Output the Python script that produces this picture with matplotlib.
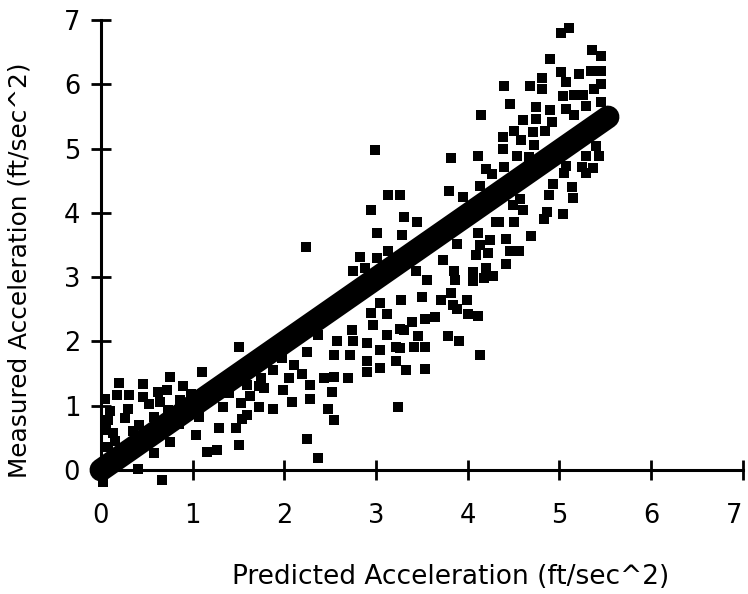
import matplotlib
matplotlib.use("Agg")
import matplotlib.pyplot as plt

# predicted vs measured acceleration
predicted = [
    1.51, 1.10, 0.75, 0.20, 0.46, 0.89, 0.72, 0.04, 0.17, 0.31, 0.46, 0.62, 0.86, 1.33, 1.53, 1.72,
    0.08, 0.26, 0.42, 0.58, 0.73, 1.07, 1.29, 1.47, 1.04, 0.13, 0.75, 1.27, 1.50, 1.16, 0.08, 0.58,
    0.40, 0.67, 0.02, 1.72, 0.05, 0.10, 0.15, 0.30, 0.35, 0.52, 0.55, 0.64, 0.02, 0.98, 1.20, 1.40,
    1.62, 0.85,
    2.37, 2.25, 2.05, 2.19, 2.28, 1.78, 1.99, 1.88, 1.59, 2.08, 2.28, 2.52, 2.48, 2.54, 2.25, 2.37,
    2.43, 2.54, 2.69, 2.54, 2.72, 2.74, 2.75, 2.90, 2.90, 3.04, 2.90, 2.95, 3.12, 2.97, 3.12, 3.22,
    3.22, 3.24, 2.57, 1.97, 2.10, 1.88, 1.74, 1.59, 1.54,
    3.39, 3.64, 3.53, 3.88, 4.00, 3.79, 3.90, 3.30, 3.46, 3.26, 3.41, 3.53, 3.04, 3.33, 3.53, 4.13,
    3.26,
    3.80, 3.95, 3.13, 3.26, 2.95, 3.30, 3.45, 3.01, 3.28, 2.83, 3.01, 3.13, 2.75, 2.88, 3.44, 3.56,
    3.73, 3.88, 4.11, 4.09, 4.22, 4.06, 3.86, 4.28, 4.31, 3.04, 3.27, 3.50, 3.71, 3.99, 2.99, 2.24,
    3.84, 3.82,
    5.02, 5.10, 5.45, 5.36, 4.90, 5.02, 5.21, 5.45, 5.35, 4.40, 4.68, 4.81, 4.81, 5.07, 5.38, 5.26,
    5.45, 5.04, 5.16, 4.46, 4.75, 4.90, 5.07, 5.29, 5.45, 4.15, 4.60, 4.75, 4.92, 5.16, 4.51, 4.71,
    4.84, 4.38, 4.58, 4.72, 4.39, 4.54, 4.67, 3.82, 4.11, 4.40, 4.20, 4.26, 4.13, 5.29, 5.43, 5.07,
    5.25, 5.37, 5.29, 4.93, 5.14, 5.05, 5.40,
    4.89, 5.15, 4.57, 4.86, 5.04, 4.49, 4.60, 4.34, 4.51, 4.83, 4.69, 4.42, 4.13, 4.24, 4.46, 4.56,
    4.42, 3.85, 4.20, 4.06, 4.18, 4.11,
]
measured = [
    1.92, 1.53, 1.45, 1.35, 1.33, 1.30, 1.25, 1.11, 1.16, 1.16, 1.14, 1.22, 1.09, 0.98, 1.04, 0.98,
    0.78, 0.81, 0.70, 0.83, 0.94, 0.83, 0.65, 0.65, 0.54, 0.57, 0.44, 0.31, 0.39, 0.28, 0.36, 0.26,
    0.02, -0.16, -0.19, 1.30, 0.62, 0.92, 0.45, 0.95, 0.60, 1.02, 0.62, 1.05, 0.02, 1.18, 1.12, 1.20,
    1.15, 0.72,
    2.10, 1.84, 1.43, 1.50, 1.32, 1.28, 1.24, 0.95, 0.85, 1.06, 1.11, 1.21, 0.95, 0.78, 0.48, 0.18,
    1.43, 1.44, 1.43, 1.79, 1.79, 2.18, 2.00, 1.97, 1.70, 1.59, 1.52, 2.44, 2.42, 2.26, 2.10, 1.92,
    1.70, 0.98, 2.00, 1.74, 1.64, 1.56, 1.43, 1.32, 0.80,
    2.30, 2.38, 2.35, 2.50, 2.42, 2.08, 2.00, 2.17, 2.08, 1.90, 1.91, 1.91, 1.87, 1.56, 1.57, 1.79,
    2.20,
    4.34, 4.24, 4.28, 4.28, 4.04, 3.94, 3.85, 3.69, 3.66, 3.31, 3.30, 3.41, 3.10, 3.14, 3.10, 2.96,
    3.26, 3.52, 3.68, 3.35, 3.38, 3.08, 2.96, 3.02, 3.85, 2.60, 2.64, 2.69, 2.64, 2.64, 4.97, 3.47,
    2.57, 2.75,
    6.79, 6.88, 6.44, 6.53, 6.40, 6.19, 6.16, 6.21, 6.20, 5.97, 5.98, 6.10, 5.93, 6.04, 5.93, 5.84,
    6.00, 5.81, 5.84, 5.70, 5.65, 5.60, 5.62, 5.66, 5.72, 5.52, 5.45, 5.46, 5.41, 5.52, 5.28, 5.26,
    5.28, 5.18, 5.14, 5.06, 5.00, 4.89, 4.87, 4.85, 4.89, 4.72, 4.68, 4.60, 4.42, 4.89, 4.89, 4.73,
    4.71, 4.70, 4.62, 4.45, 4.40, 4.62, 5.04,
    4.27, 4.23, 4.21, 4.02, 3.98, 4.12, 4.05, 3.85, 3.85, 3.90, 3.64, 3.60, 3.50, 3.57, 3.41, 3.41,
    3.21, 3.10, 3.14, 2.94, 2.99, 2.40,
]

# one-to-one line drawn as the thick band
fit_x = [0.0, 5.53]
fit_y = [0.0, 5.49]

x_ticks = [0, 1, 2, 3, 4, 5, 6, 7]
y_ticks = [0, 1, 2, 3, 4, 5, 6, 7]

plt.rcParams["font.family"] = ["DejaVu Sans"]

fig = plt.figure(figsize=(7.48, 5.94), dpi=100)
ax = fig.add_axes([0.135, 0.2088, 0.858, 0.7576])

ax.scatter(predicted, measured, marker="s", s=58, color="black", linewidths=0,
           clip_on=False, zorder=2)
ax.plot(fit_x, fit_y, color="black", linewidth=16.5, solid_capstyle="round",
        clip_on=False, zorder=3)

ax.set_xlim(0, 7)
ax.set_ylim(0, 7)
ax.set_xticks(x_ticks)
ax.set_yticks(y_ticks)

for side in ("top", "right"):
    ax.spines[side].set_visible(False)
for side in ("left", "bottom"):
    ax.spines[side].set_linewidth(2.2)
    ax.spines[side].set_zorder(1)

ax.tick_params(axis="both", direction="inout", length=14, width=2, labelsize=18.5,
               colors="black")
ax.tick_params(axis="x", pad=17)
ax.tick_params(axis="y", pad=8)
# last x label sits at the figure edge in the original
ax.get_xticklabels()[-1].set_horizontalalignment("right")

ax.set_xlabel("Predicted Acceleration (ft/sec^2)", fontsize=19)
ax.set_ylabel("Measured Acceleration (ft/sec^2)", fontsize=17.8)
ax.xaxis.set_label_coords(0.545, -0.208)
ax.yaxis.set_label_coords(-0.108, 0.444)

fig.savefig("out.png", dpi=100)
plt.close(fig)
